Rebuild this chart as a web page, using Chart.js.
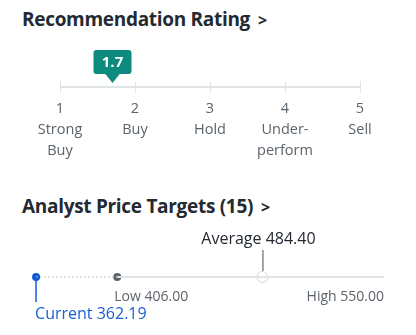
<!DOCTYPE html>
<html lang="en">
<head>
    <meta charset="UTF-8">
    <title>Ratings</title>
    <script src="https://cdn.jsdelivr.net/npm/chart.js"></script>
    <style>
        body { margin: 0; background: #fff; font-family: "Open Sans", sans-serif; }
        .wrap { position: relative; width: 416px; height: 335px; overflow: hidden; }
        .title { position: absolute; left: 22px; font-size: 19px; font-weight: 700; color: #232a31; letter-spacing: -0.3px; }
        .title span { font-size: 16px; margin-left: 8px; }
        canvas { position: absolute; left: 0; }
    </style>
</head>
<body>
<div class="wrap">
    <div class="title" style="top:6px">Recommendation Rating<span>&gt;</span></div>
    <canvas id="ratingChart" width="416" height="170" style="top:0"></canvas>
    <div class="title" style="top:193px">Analyst Price Targets (15)<span>&gt;</span></div>
    <canvas id="priceChart" width="416" height="115" style="top:220px"></canvas>
</div>
<script>
// recommendation rating
const ratingValue = 1.7;
const ratingTicks = [1, 2, 3, 4, 5];
const ratingLabels = [['1', 'Strong', 'Buy'], ['2', 'Buy'], ['3', 'Hold'], ['4', 'Under-', 'perform'], ['5', 'Sell']];

// price targets
const priceNames = ['Current', 'Low', 'Average', 'High'];
const priceValues = [362.19, 406.00, 484.40, 550.00];
const priceMin = 360;

const FONT = '"Open Sans", sans-serif';

// badge over the rating value
const badgePlugin = {
    id: 'badge',
    afterDatasetsDraw(chart) {
        const ctx = chart.ctx;
        const x = chart.scales.x.getPixelForValue(ratingValue);
        const tipY = chart.chartArea.top + 2;
        const w = 38, h = 24, r = 3;
        const top = tipY - 9 - h;
        ctx.save();
        ctx.fillStyle = '#0b8a7d';
        ctx.beginPath();
        ctx.roundRect(x - w / 2, top, w, h, r);
        ctx.fill();
        ctx.beginPath();
        ctx.moveTo(x - 8, top + h - 1);
        ctx.lineTo(x + 8, top + h - 1);
        ctx.lineTo(x, tipY);
        ctx.closePath();
        ctx.fill();
        ctx.fillStyle = '#fff';
        ctx.font = 'bold 15px ' + FONT;
        ctx.textAlign = 'center';
        ctx.textBaseline = 'middle';
        ctx.fillText(ratingValue.toFixed(1), x, top + h / 2 + 1);
        ctx.restore();
    }
};

new Chart(document.getElementById('ratingChart'), {
    type: 'scatter',
    data: {
        datasets: [{
            type: 'line',
            data: [{x: ratingTicks[0], y: 0}, {x: ratingTicks[ratingTicks.length - 1], y: 0}],
            borderColor: '#e0e4e9',
            borderWidth: 2,
            pointRadius: 0
        }]
    },
    options: {
        responsive: false,
        animation: false,
        events: [],
        layout: { padding: { left: 60, right: 56, top: 81, bottom: 7 } },
        plugins: { legend: { display: false }, tooltip: { enabled: false } },
        scales: {
            x: {
                type: 'linear',
                min: ratingTicks[0],
                max: ratingTicks[ratingTicks.length - 1],
                afterBuildTicks: s => { s.ticks = ratingTicks.map(v => ({ value: v })); },
                afterFit: s => { s.height = 70; },
                border: { display: false },
                grid: { color: '#dfe3e8', lineWidth: 1, drawTicks: false },
                ticks: {
                    padding: 5,
                    color: '#5b636a',
                    font: { family: FONT, size: 14.5, lineHeight: 1.45 },
                    maxRotation: 0,
                    autoSkip: false,
                    callback: (v) => ratingLabels[ratingTicks.indexOf(v)]
                }
            },
            y: { display: false, min: -1, max: 1 }
        }
    },
    plugins: [badgePlugin]
});

// labels and ticks for the price markers
const pricePlugin = {
    id: 'priceLabels',
    afterDatasetsDraw(chart) {
        const ctx = chart.ctx;
        const xs = chart.scales.x;
        const y = chart.scales.y.getPixelForValue(0);
        const cx = priceValues.map(v => xs.getPixelForValue(v));
        ctx.save();
        ctx.textBaseline = 'middle';
        // average
        ctx.strokeStyle = '#464e56';
        ctx.lineWidth = 1;
        ctx.beginPath();
        ctx.moveTo(cx[2] + 0.5, y - 27);
        ctx.lineTo(cx[2] + 0.5, y - 6);
        ctx.stroke();
        ctx.fillStyle = '#232a31';
        ctx.font = '16px ' + FONT;
        ctx.textAlign = 'center';
        ctx.fillText(priceNames[2] + ' ' + priceValues[2].toFixed(2), cx[2] - 4, y - 38);
        // current
        ctx.strokeStyle = '#0f5bd6';
        ctx.lineWidth = 1.5;
        ctx.beginPath();
        ctx.moveTo(cx[0], y);
        ctx.lineTo(cx[0], y + 25);
        ctx.stroke();
        ctx.fillStyle = '#1a5fd7';
        ctx.textAlign = 'left';
        ctx.fillText(priceNames[0] + ' ' + priceValues[0].toFixed(2), cx[0] - 1, y + 37);
        // low / high
        ctx.fillStyle = '#5b636a';
        ctx.font = '14px ' + FONT;
        ctx.fillText(priceNames[1] + ' ' + priceValues[1].toFixed(2), cx[1] - 3, y + 20);
        ctx.textAlign = 'right';
        ctx.fillText(priceNames[3] + ' ' + priceValues[3].toFixed(2), cx[3], y + 20);
        ctx.restore();
    }
};

new Chart(document.getElementById('priceChart'), {
    type: 'scatter',
    data: {
        datasets: [
            {
                type: 'line',
                data: [{x: priceValues[0], y: 0}, {x: priceValues[1], y: 0}],
                borderColor: '#c9ced3',
                borderWidth: 1.5,
                borderDash: [1.5, 2.5],
                pointRadius: 0
            },
            {
                type: 'line',
                data: [{x: priceValues[1], y: 0}, {x: priceValues[3], y: 0}],
                borderColor: '#e0e4e9',
                borderWidth: 2,
                pointRadius: 0
            },
            {
                data: [{x: priceValues[2], y: 0}],
                pointRadius: 5.5,
                pointBackgroundColor: '#fff',
                pointBorderColor: '#d0d5da',
                pointBorderWidth: 1
            },
            {
                data: [{x: priceValues[1], y: 0}],
                pointRadius: 4,
                pointBackgroundColor: '#5b636a',
                pointBorderWidth: 0
            },
            {
                data: [{x: priceValues[0], y: 0}],
                pointRadius: 4,
                pointBackgroundColor: '#0f5bd6',
                pointBorderWidth: 0
            }
        ]
    },
    options: {
        responsive: false,
        animation: false,
        events: [],
        layout: { padding: { left: 32, right: 32, top: 51, bottom: 52 } },
        plugins: { legend: { display: false }, tooltip: { enabled: false } },
        scales: {
            x: { type: 'linear', display: false, min: priceMin, max: priceValues[3] },
            y: { display: false, min: -1, max: 1 }
        }
    },
    plugins: [pricePlugin]
});
</script>
</body>
</html>
